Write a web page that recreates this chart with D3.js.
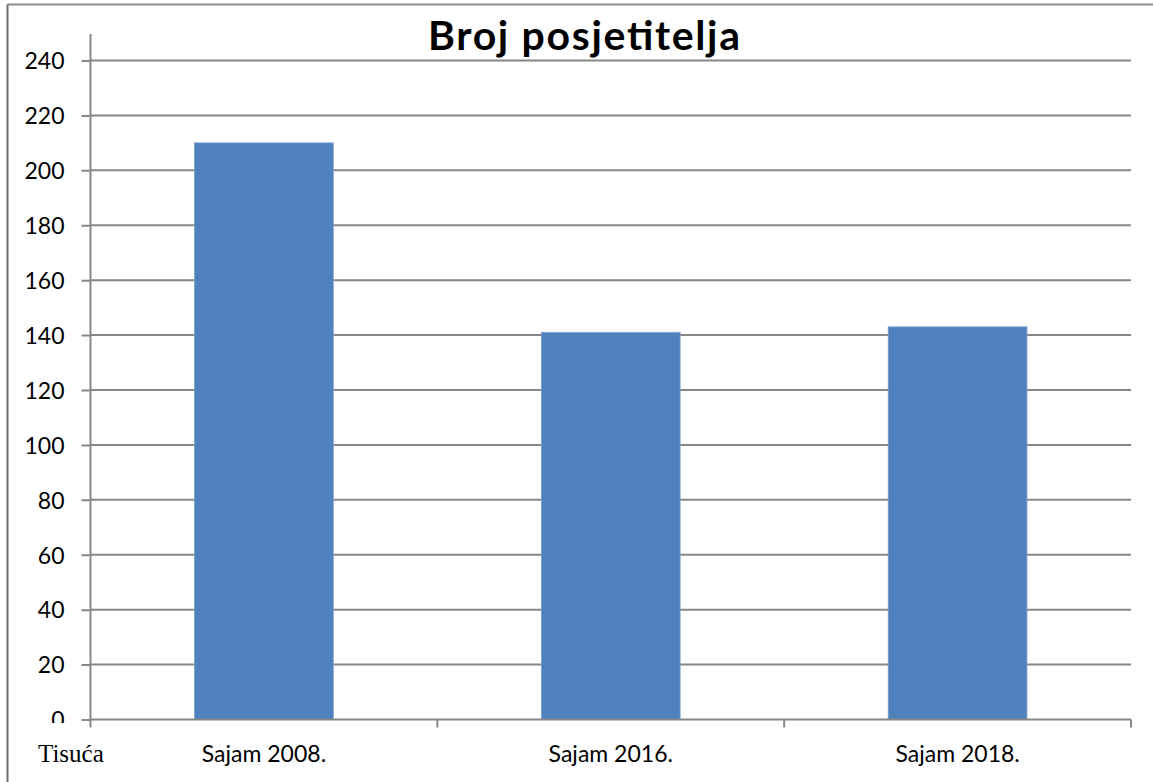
<!DOCTYPE html>
<html>
<head>
<meta charset="utf-8">
<script src="https://cdn.jsdelivr.net/npm/d3@7"></script>
<style>
  body { margin: 0; background: #fff; }
  svg { display: block; }
</style>
</head>
<body>
<svg id="chart" width="1153" height="782"></svg>
<script>
// data (thousands of visitors)
const categories = ["Sajam 2008.", "Sajam 2016.", "Sajam 2018."];
const visitors = [210, 141, 143];
const yTicks = [0, 20, 40, 60, 80, 100, 120, 140, 160, 180, 200, 220, 240];
const title = "Broj posjetitelja";
const unitLabel = "Tisuća";

const W = 1153, H = 782;
const plot = { left: 90.5, right: 1131, top: 60.5, bottom: 719.5 };
const gridColor = "#878787";
const barColor = "#4f81bd";
const labelFont = "Lato, 'Open Sans', sans-serif";

const svg = d3.select("#chart");

// outer frame: only top and left edges are visible in the picture
svg.append("line")
  .attr("x1", 7.5).attr("y1", 4.5).attr("x2", W).attr("y2", 4.5)
  .attr("stroke", "#8a8a8a").attr("stroke-width", 2);
svg.append("line")
  .attr("x1", 7.5).attr("y1", 4.5).attr("x2", 7.5).attr("y2", H)
  .attr("stroke", "#6e6e6e").attr("stroke-width", 2);

const y = d3.scaleLinear().domain([0, 240]).range([plot.bottom, plot.top]);
const xBand = d3.scaleBand().domain(categories).range([plot.left, plot.right]).padding(0);
const xBar = d3.scaleBand().domain(categories).range([plot.left, plot.right])
  .paddingInner(0.6).paddingOuter(0.3);

// gridlines
svg.append("g")
  .selectAll("line")
  .data(yTicks.filter((d) => d > 0))
  .join("line")
  .attr("x1", plot.left).attr("x2", plot.right)
  .attr("y1", (d) => y(d)).attr("y2", (d) => y(d))
  .attr("stroke", gridColor).attr("stroke-width", 2);

// title - calibri is wider than lato, so stretch the spacing to match
svg.append("text")
  .attr("x", 584).attr("y", 50)
  .attr("text-anchor", "middle")
  .attr("font-family", labelFont)
  .attr("font-weight", "bold")
  .attr("font-size", 41)
  .attr("textLength", 312)
  .attr("lengthAdjust", "spacing")
  .attr("fill", "#000")
  .text(title);

// bars
svg.append("g")
  .selectAll("rect")
  .data(categories)
  .join("rect")
  .attr("x", (d) => xBar(d))
  .attr("width", xBar.bandwidth())
  .attr("y", (d, i) => y(visitors[i]))
  .attr("height", (d, i) => y(0) - y(visitors[i]))
  .attr("fill", barColor)
  .attr("stroke", "#7a9fd0").attr("stroke-width", 0.8);

// y axis (labels clipped just under the baseline like the original)
// clip rect is in the axis group's own coords, hence the -plot.left
svg.append("clipPath").attr("id", "yclip")
  .append("rect").attr("x", -plot.left).attr("y", 0).attr("width", plot.left + 5).attr("height", 723);

const yAxis = svg.append("g")
  .attr("transform", `translate(${plot.left},0)`)
  .attr("clip-path", "url(#yclip)")
  .call(d3.axisLeft(y).tickValues(yTicks).tickSize(9).tickPadding(17));
yAxis.select(".domain").remove();
yAxis.selectAll(".tick line").attr("stroke", gridColor).attr("stroke-width", 2);
yAxis.selectAll(".tick text")
  .attr("font-family", labelFont).attr("font-size", 23).attr("fill", "#000")
  .attr("dy", "0.36em");

svg.append("line")
  .attr("x1", plot.left).attr("x2", plot.left)
  .attr("y1", 34).attr("y2", plot.bottom)
  .attr("stroke", gridColor).attr("stroke-width", 2);

// x axis: line, ticks at category boundaries, centred labels
svg.append("line")
  .attr("x1", plot.left).attr("x2", plot.right)
  .attr("y1", plot.bottom).attr("y2", plot.bottom)
  .attr("stroke", gridColor).attr("stroke-width", 2);

const bounds = categories.map((c) => xBand(c)).concat([xBand.range()[1]]);
svg.append("g")
  .selectAll("line")
  .data(bounds)
  .join("line")
  .attr("x1", (d) => d).attr("x2", (d) => d)
  .attr("y1", plot.bottom).attr("y2", plot.bottom + 8)
  .attr("stroke", gridColor).attr("stroke-width", 2);

const xAxis = svg.append("g")
  .attr("transform", `translate(0,${plot.bottom})`)
  .call(d3.axisBottom(xBand).tickSize(0).tickPadding(0));
xAxis.select(".domain").remove();
xAxis.selectAll(".tick text")
  .attr("y", 42).attr("dy", 0)
  .attr("font-family", labelFont).attr("font-size", 23).attr("fill", "#000");

svg.append("text")
  .attr("x", 38).attr("y", 762)
  .attr("font-family", "'Liberation Serif', 'DejaVu Serif', serif")
  .attr("font-size", 25)
  .attr("fill", "#000")
  .text(unitLabel);
</script>
</body>
</html>
